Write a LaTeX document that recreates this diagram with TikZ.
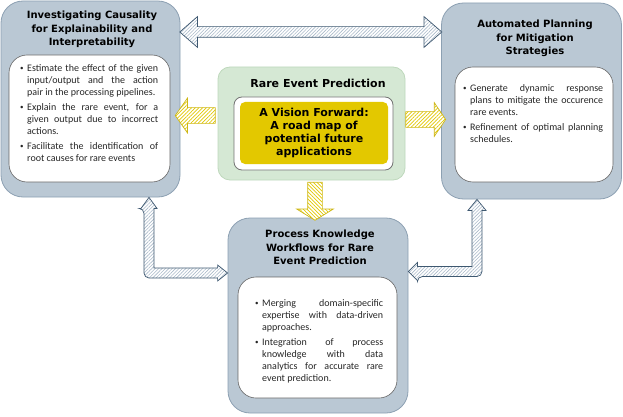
\documentclass[tikz,border=0pt]{standalone}
\usepackage{fontspec}
\setmainfont{Carlito}
\newfontfamily\vfont{DejaVu Sans}
\usetikzlibrary{shapes.arrows,patterns.meta,calc}
\definecolor{PanelBlue}{RGB}{186,200,212}
\definecolor{PanelEdge}{RGB}{140,160,178}
\definecolor{MidGreen}{RGB}{213,232,212}
\definecolor{MidEdge}{RGB}{190,216,188}
\definecolor{GoldFill}{RGB}{227,200,0}
\definecolor{GoldEdge}{RGB}{205,182,20}
\definecolor{ArrowEdge}{RGB}{62,88,112}
\definecolor{ArrowHatch}{RGB}{170,186,202}
\newcommand{\bitem}[1]{\hyphenpenalty=10000\relax\exhyphenpenalty=10000\relax
  \hangindent=7pt\hangafter=1\noindent\hbox to 7pt{\raisebox{0.6pt}{\fontsize{7}{7}\selectfont\textbullet}\hfil}#1\par}

\begin{document}
\begin{tikzpicture}[x=1pt,y=-1pt,
  panel/.style n args={2}{draw=PanelEdge,fill=PanelBlue,line width=0.8pt,rounded corners=22pt,minimum width=#1,minimum height=#2},
  card/.style n args={2}{draw=black!60,fill=white,line width=0.6pt,rounded corners=18pt,minimum width=#1,minimum height=#2},
  ttl/.style={font=\vfont\bfseries\fontsize{10}{13.5}\selectfont,align=center,inner sep=0pt},
  body/.style={font=\fontsize{10}{12}\selectfont,align=justify,inner sep=0pt,anchor=north west,text=black!85},
  bluearr/.style={preaction={fill=white},pattern={Lines[angle=45,distance=2.4pt,line width=0.6pt]},pattern color=ArrowHatch,draw=ArrowEdge,line width=0.7pt},
  goldarr/.style={single arrow,preaction={fill=white},pattern={Lines[angle=#1,distance=2.6pt,line width=0.7pt]},pattern color=GoldFill,draw=GoldEdge,line width=0.7pt}]
  \useasboundingbox (0,0) rectangle (623,417);

  % three outer panels
  \node[panel={179pt}{196pt}] (lft) at (90.5,99) {};
  \node[panel={180pt}{196pt}] (rgt) at (531.5,101) {};
  \node[panel={180pt}{195pt}] (bot) at (318,315.5) {};
  \node[card={161pt}{127pt}] (lftin) at (89.5,118.5) {};
  \node[card={158pt}{115pt}] (rgtin) at (534,124.5) {};
  \node[card={159pt}{121pt}] (botin) at (317.5,337.5) {};

  \node[ttl] (lftttl) at (92,29.5) {Investigating Causality\\for Explainability and\\Interpretability};
  \node[ttl] (rgtttl) at (535,38.5) {Automated Planning\\for Mitigation\\Strategies};
  \node[ttl] (botttl) at (320,247.5) {Process Knowledge\\Workflows for Rare\\Event Prediction};

  \node[body,text width=138pt] (lfttxt) at (20,64) {%
    \bitem{Estimate the effect of the given\linebreak input/output and the action\linebreak pair in the processing pipelines.}
    \vspace{3pt}
    \bitem{Explain the rare event, for a\linebreak given output due to incorrect\linebreak actions.}
    \vspace{3pt}
    \bitem{Facilitate the identification of\linebreak root causes for rare events}};
  \node[body,text width=140pt] (rgttxt) at (463,84) {%
    \bitem{Generate dynamic response\linebreak plans to mitigate the occurence\linebreak rare events.}
    \vspace{3pt}
    \bitem{Refinement of optimal planning\linebreak schedules.}};
  \node[body,text width=128pt] (bottxt) at (255,299) {%
    \bitem{Merging domain-specific\linebreak expertise with data-driven\linebreak approaches.}
    \vspace{3pt}
    \bitem{Integration of process\linebreak knowledge with data\linebreak analytics for accurate rare\linebreak event prediction.}};

  % centre box
  \node[draw=MidEdge,fill=MidGreen,line width=0.8pt,rounded corners=12pt,minimum width=187pt,minimum height=113pt] (mid) at (311.5,123.5) {};
  \node[ttl,font=\vfont\bfseries\fontsize{11}{13}\selectfont] (midttl) at (318,83) {Rare Event Prediction};
  \node[draw=black!55,fill=white,line width=0.8pt,rounded corners=8pt,minimum width=159pt,minimum height=73pt] (midin) at (313.5,133.5) {};
  \node[fill=GoldFill,rounded corners=5pt,minimum width=148pt,minimum height=62pt,align=center,font=\vfont\bfseries\fontsize{11}{13}\selectfont] (gold) at (314,133) {A Vision Forward:\\A road map of\\potential future\\applications};

  % arrows
  \node[bluearr,double arrow,minimum height=262pt,inner xsep=0pt,inner ysep=5pt,double arrow head extend=10pt,double arrow tip angle=82] (toparr) at (310.75,32) {};
  \node[goldarr=45,shape border rotate=180,minimum height=40pt,inner xsep=0pt,inner ysep=7.5pt,single arrow head extend=9.5pt,single arrow tip angle=110] (ylft) at (198,115.5) {};
  \node[goldarr=45,minimum height=40pt,inner xsep=0pt,inner ysep=7.5pt,single arrow head extend=9pt,single arrow tip angle=112] (yrgt) at (423,119.5) {};
  \node[goldarr=-45,shape border rotate=270,minimum height=38pt,inner xsep=7pt,inner ysep=0pt,single arrow head extend=11pt,single arrow tip angle=117] (ydown) at (315,199) {};

  \coordinate (la) at (149,0 |- lft.south);
  \coordinate (lb) at (bot.west |- 0,273);
  \draw[bluearr] (la) -- ($(la)+(8,11)$) -- ($(la)+(5,11)$) -- ($(la |- lb)+(5,-5)$) -- ($(lb)+(-10,-5)$) -- ($(lb)+(-10,-8)$) -- (lb) -- ($(lb)+(-10,8)$) -- ($(lb)+(-10,5)$) [rounded corners=5pt] -- ($(la |- lb)+(-5,5)$) -- ($(la)+(-5,11)$) [sharp corners] -- ($(la)+(-8,11)$) -- cycle;
  \coordinate (ra) at (477,0 |- rgt.south);
  \coordinate (rb) at (bot.east |- 0,271.5);
  \draw[bluearr] (ra) -- ($(ra)+(9,11)$) -- ($(ra)+(5,11)$) [rounded corners=5pt] -- ($(ra |- rb)+(5,5)$) -- ($(rb)+(9,5)$) [sharp corners] -- ($(rb)+(9,9)$) -- (rb) -- ($(rb)+(9,-9)$) -- ($(rb)+(9,-5)$) -- ($(ra |- rb)+(-5,-5)$) -- ($(ra)+(-5,11)$) -- ($(ra)+(-9,11)$) -- cycle;
\end{tikzpicture}
\end{document}
